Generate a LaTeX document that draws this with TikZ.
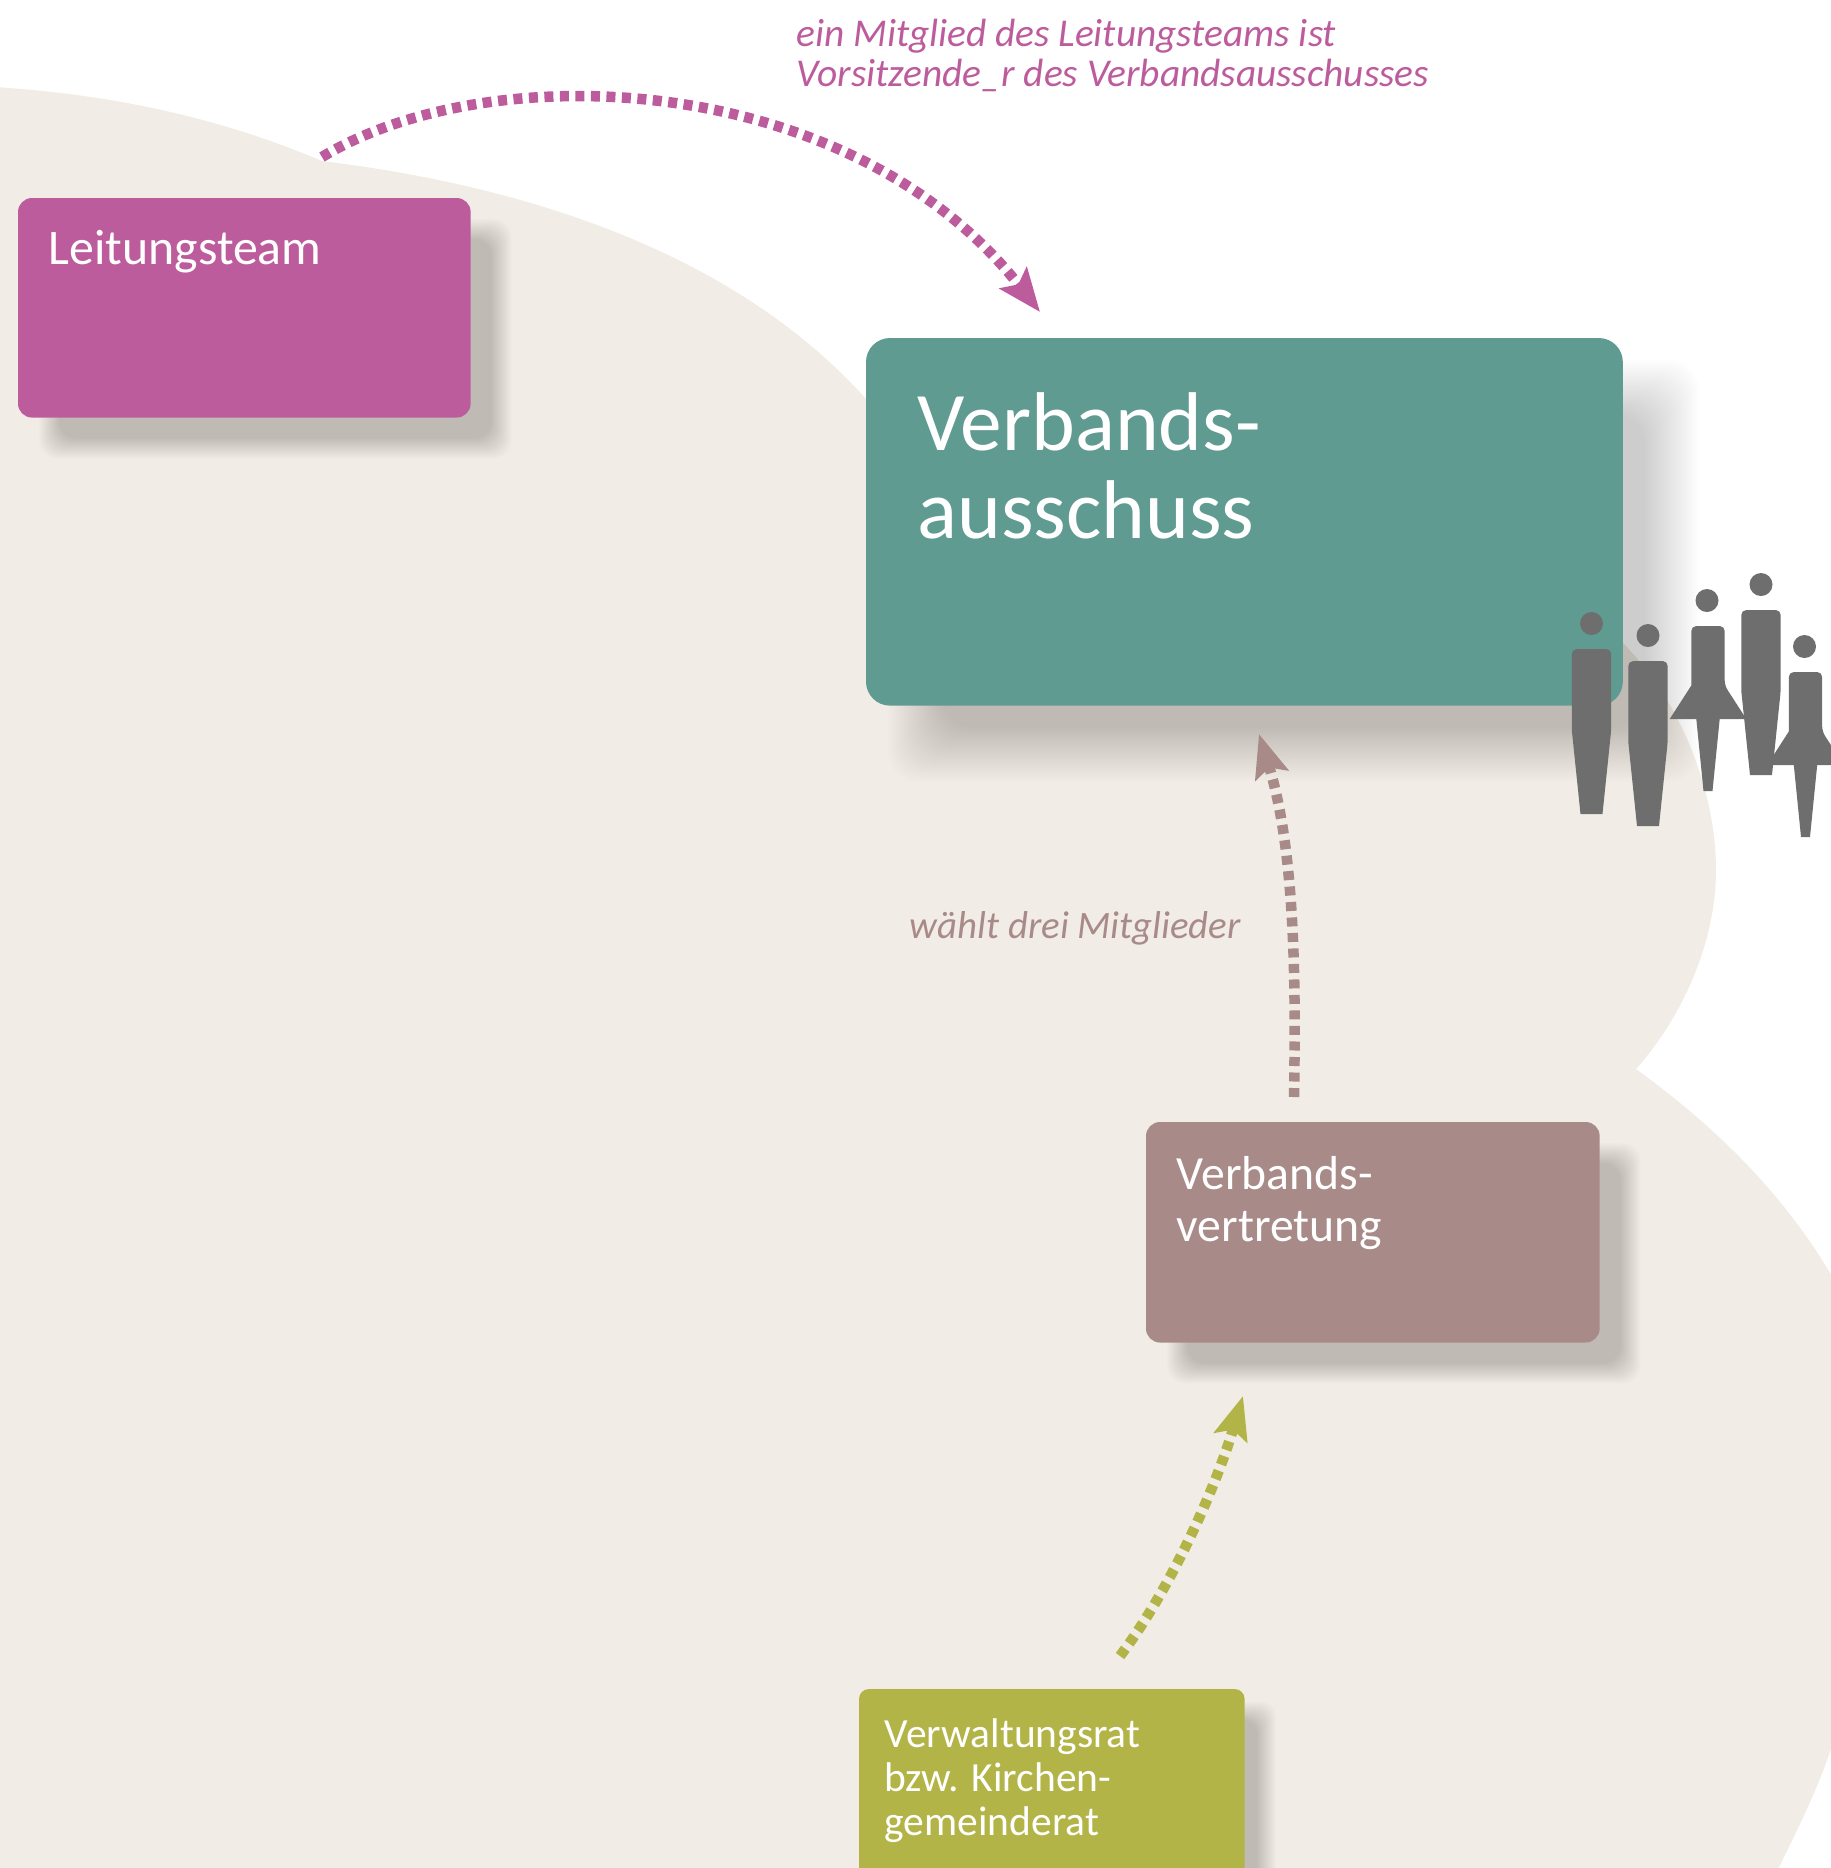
\documentclass[tikz,border=0pt]{standalone}
\usepackage{fontspec}
\setmainfont{Carlito}
\usetikzlibrary{arrows.meta}
\definecolor{cloudbg}{HTML}{F1EDE6}
\definecolor{teamcol}{HTML}{BC5C9D}
\definecolor{ausschusscol}{HTML}{5F9B91}
\definecolor{vertretungcol}{HTML}{A88B88}
\definecolor{ratcol}{HTML}{B3B447}
\definecolor{peoplecol}{HTML}{6E6E6E}
\tikzset{
  bluebox/.style={rectangle, anchor=north west, rounded corners=#1, inner sep=0pt},
  boxtext/.style={anchor=north west, align=left, text=white, inner sep=0pt},
  notetext/.style={anchor=north west, align=left, inner sep=0pt, font=\fontsize{#1}{11.5}\selectfont\itshape},
  dotline/.style={line width=0.105cm, dash pattern=on 0.09cm off 0.065cm,
    -{Stealth[length=0.43cm, width=0.34cm, inset=0.08cm]}},
}
% weicher Schatten aus gestapelten Rechtecken
\newcommand{\boxshadow}[4]{
  \foreach \i in {-12,...,12}
    \fill[black, opacity=0.009, rounded corners=#3*0.01cm]
      ([shift={(#2-\i*#4,#2-\i*#4)}]#1.north west) rectangle ([shift={(#2+\i*#4,#2+\i*#4)}]#1.south east);
}
\begin{document}
\begin{tikzpicture}[x=0.01cm, y=-0.01cm]
    \path[use as bounding box, clip] (0,0) rectangle (1831,1868);

    % Hintergrund
    \fill[cloudbg] (-5,87) .. controls (120,95) and (225,120) .. (322,161)
      .. controls (560,190) and (760,270) .. (880,415)
      -- (1623,643) .. controls (1680,700) and (1716,790) .. (1716,870)
      .. controls (1716,945) and (1680,1020) .. (1636,1069)
      .. controls (1720,1130) and (1790,1200) .. (1840,1290)
      -- (1840,1720) .. controls (1825,1775) and (1800,1825) .. (1775,1875)
      -- (-5,1875) -- cycle;

    % Kaesten
    \node[bluebox=0.14cm, minimum width=4.51cm, minimum height=2.18cm] (team) at (18,198) {};
    \node[bluebox=0.24cm, minimum width=7.55cm, minimum height=3.66cm] (ausschuss) at (866,338) {};
    \node[bluebox=0.14cm, minimum width=4.52cm, minimum height=2.19cm] (vertretung) at (1146,1122) {};
    \node[bluebox=0.10cm, minimum width=3.84cm, minimum height=2.60cm] (rat) at (859,1689) {};

    \boxshadow{team}{31}{18}{0.85}
    \boxshadow{ausschuss}{49}{30}{2.25}
    \boxshadow{vertretung}{31}{18}{0.85}
    \boxshadow{rat}{22}{14}{0.8}

    \fill[teamcol, rounded corners=0.14cm] (team.north west) rectangle (team.south east);
    \fill[ausschusscol, rounded corners=0.24cm] (ausschuss.north west) rectangle (ausschuss.south east);
    \fill[vertretungcol, rounded corners=0.14cm] (vertretung.north west) rectangle (vertretung.south east);
    \fill[ratcol, rounded corners=0.10cm] (rat.north west) rectangle (rat.south east);

    \node[boxtext, font=\fontsize{14.15}{16}\selectfont] (teamtext) at (48,230) {Leitungsteam};
    \node[boxtext, font=\fontsize{23.7}{25}\selectfont] (ausschusstext) at (917,392) {Verbands-\\ausschuss};
    \node[boxtext, font=\fontsize{13.55}{14.8}\selectfont] (vertretungtext) at (1176,1156) {Verbands-\\vertretung};
    \node[boxtext, font=\fontsize{11.8}{12.5}\selectfont] (rattext) at (884,1718) {Verwaltungsrat\\bzw. Kirchen-\\gemeinderat};

    % Beschriftungen
    \node[notetext=11.2, text=teamcol] (teamnote) at (796,18) {ein Mitglied des Leitungsteams ist\\Vorsitzende\_r des Verbandsausschusses};
    \node[notetext=11.05, text=vertretungcol] (vertretungnote) at (909,911) {wählt drei Mitglieder};

    % Pfeile
    \coordinate (teamstart) at (322,157);
    \coordinate (teamend) at (1040,312);
    \coordinate (vertretungstart) at (1294,1097);
    \coordinate (vertretungend) at (1259,734);
    \coordinate (ratstart) at (1120,1656);
    \coordinate (ratend) at (1243,1396);
    \draw[dotline, teamcol] (teamstart) .. controls (490,55) and (850,70) .. (teamend);
    \draw[dotline, vertretungcol] (vertretungstart) .. controls (1296,980) and (1295,850) .. (vertretungend);
    \draw[dotline, ratcol] (ratstart) .. controls (1170,1590) and (1215,1490) .. (ratend);

    % Personen
    \foreach \x/\y in {1591.5/649, 1648/661, 1761/610} {
      \fill[peoplecol] (\x,\y-25.5) circle (11.5);
      \fill[peoplecol, rounded corners=0.05cm] (\x-19.7,\y+81) -- (\x-19.7,\y) -- (\x+19.7,\y) -- (\x+19.7,\y+81)
        [sharp corners] -- (\x+11,\y+165) -- (\x-11,\y+165) -- cycle;
    }
    \foreach \x/\y in {1708/626, 1805.5/672} {
      \fill[peoplecol] (\x-1,\y-25.5) circle (11.5);
      \fill[peoplecol, rounded corners=0.05cm] (\x-16.7,\y+59.5) -- (\x-16.7,\y) -- (\x+16.7,\y) -- (\x+16.7,\y+59.5)
        [sharp corners] -- (\x+38.3,\y+93) -- (\x+11.7,\y+93) -- (\x+4.5,\y+165) -- (\x-4.5,\y+165)
        -- (\x-11.7,\y+93) -- (\x-38.3,\y+93) -- cycle;
    }
  \end{tikzpicture}
\end{document}
